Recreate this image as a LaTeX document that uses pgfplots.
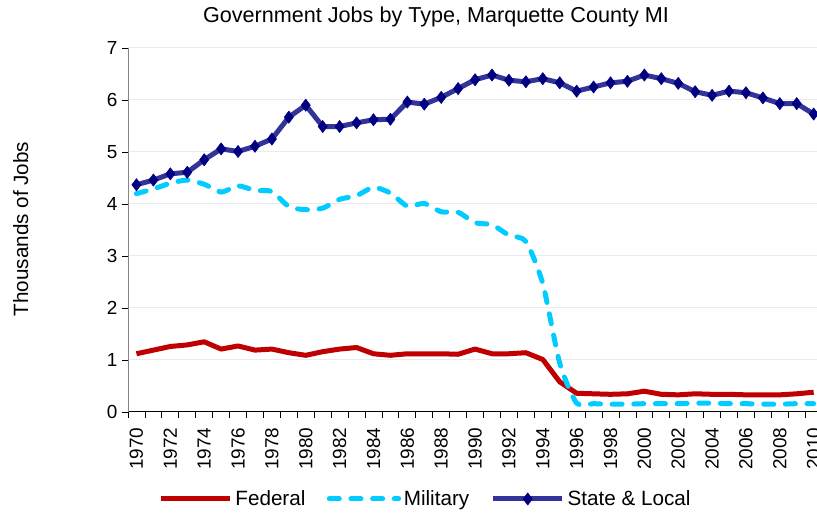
\documentclass[border=0pt]{standalone}
\usepackage{fontspec}
\setmainfont{Liberation Sans}
\usepackage{pgfplots}
\pgfplotsset{compat=1.18}
\definecolor{fedred}{HTML}{C00000}
\definecolor{milcyan}{HTML}{00CCFF}
\definecolor{slline}{HTML}{333399}
\definecolor{slmark}{HTML}{000080}
\definecolor{gridgray}{HTML}{EBEBEB}
\definecolor{axgray}{HTML}{868686}
\pgfplotstableread{
Year Fed Mil SL
1970 1.12 4.20 4.37
1971 1.19 4.29 4.46
1972 1.26 4.40 4.58
1973 1.29 4.46 4.61
1974 1.35 4.38 4.85
1975 1.21 4.23 5.06
1976 1.27 4.35 5.01
1977 1.19 4.26 5.11
1978 1.21 4.24 5.25
1979 1.14 3.95 5.67
1980 1.09 3.89 5.90
1981 1.16 3.92 5.49
1982 1.21 4.09 5.49
1983 1.24 4.16 5.56
1984 1.12 4.32 5.62
1985 1.09 4.21 5.63
1986 1.12 3.96 5.96
1987 1.12 4.01 5.92
1988 1.12 3.85 6.05
1989 1.11 3.84 6.22
1990 1.21 3.64 6.39
1991 1.12 3.60 6.48
1992 1.12 3.40 6.38
1993 1.14 3.28 6.35
1994 1.01 2.47 6.41
1995 0.58 0.94 6.33
1996 0.36 0.17 6.17
1997 0.35 0.16 6.25
1998 0.34 0.15 6.33
1999 0.35 0.15 6.36
2000 0.40 0.16 6.48
2001 0.34 0.16 6.41
2002 0.33 0.16 6.32
2003 0.35 0.17 6.16
2004 0.34 0.17 6.09
2005 0.34 0.16 6.17
2006 0.33 0.16 6.14
2007 0.33 0.15 6.04
2008 0.33 0.15 5.93
2009 0.35 0.16 5.93
2010 0.38 0.16 5.73
}\datatable
\begin{document}
\begin{tikzpicture}
\path[use as bounding box, clip] (0pt,0pt) rectangle (612.75pt,384.75pt);
\node[font=\fontsize{16.2}{19}\selectfont] at (327pt,372pt) {Government Jobs by Type, Marquette County MI};
\node[rotate=90,font=\fontsize{15.5}{18}\selectfont] at (15.5pt,213pt) {Thousands of Jobs};
\begin{axis}[
  at={(96pt,75.75pt)}, anchor=south west,
  scale only axis, width=520.6pt, height=273pt,
  xmin=1969.5, xmax=2010.5, ymin=0, ymax=7,
  axis lines*=left,
  x axis line style={black, line width=0.75pt},
  y axis line style={axgray, line width=0.75pt},
  tick align=outside,
  major tick length=4.5pt,
  tick style={black, line width=0.6pt},
  xtick={1969.5,1970.5,...,2010.5},
  xticklabels={},
  extra x ticks={1970,1972,...,2010},
  extra x tick labels={1970,1972,1974,1976,1978,1980,1982,1984,1986,1988,1990,1992,1994,1996,1998,2000,2002,2004,2006,2008,2010},
  extra x tick style={major tick length=0pt, tick label style={yshift=-8.25pt, rotate=90, anchor=east, font=\fontsize{14.2}{16}\selectfont}},
  ytick={0,1,...,7},
  yticklabel style={font=\fontsize{14.2}{16}\selectfont},
  /pgf/number format/assume math mode=true,
  ymajorgrids=true,
  grid style={gridgray, line width=0.75pt},
  legend columns=3,
  legend style={at={(0.429,-0.239)}, anchor=center, draw=none, fill=none,
    font=\fontsize{15.5}{18}\selectfont,
    /tikz/every even column/.append style={column sep=14pt}},
  legend image code/.code={\draw[mark repeat=2,mark phase=2,#1] plot coordinates {(0pt,0pt) (26pt,0pt) (52pt,0pt)};},
]
\addplot[fedred, line width=3.75pt, line join=round] table[x=Year,y=Fed]{\datatable};
\addlegendentry{Federal}
\addplot[milcyan, line width=3.75pt, line cap=round, dash pattern=on 7.5pt off 8.75pt, smooth, tension=0.4] table[x=Year,y=Mil]{\datatable};
\addlegendentry{Military}
\addplot[slline, line width=3.75pt, line join=round, mark=diamond*, mark size=4.6pt, mark options={solid, fill=slmark, draw=slmark, line width=0.4pt}] table[x=Year,y=SL]{\datatable};
\addlegendentry{State \& Local}
\end{axis}
\end{tikzpicture}
\end{document}
